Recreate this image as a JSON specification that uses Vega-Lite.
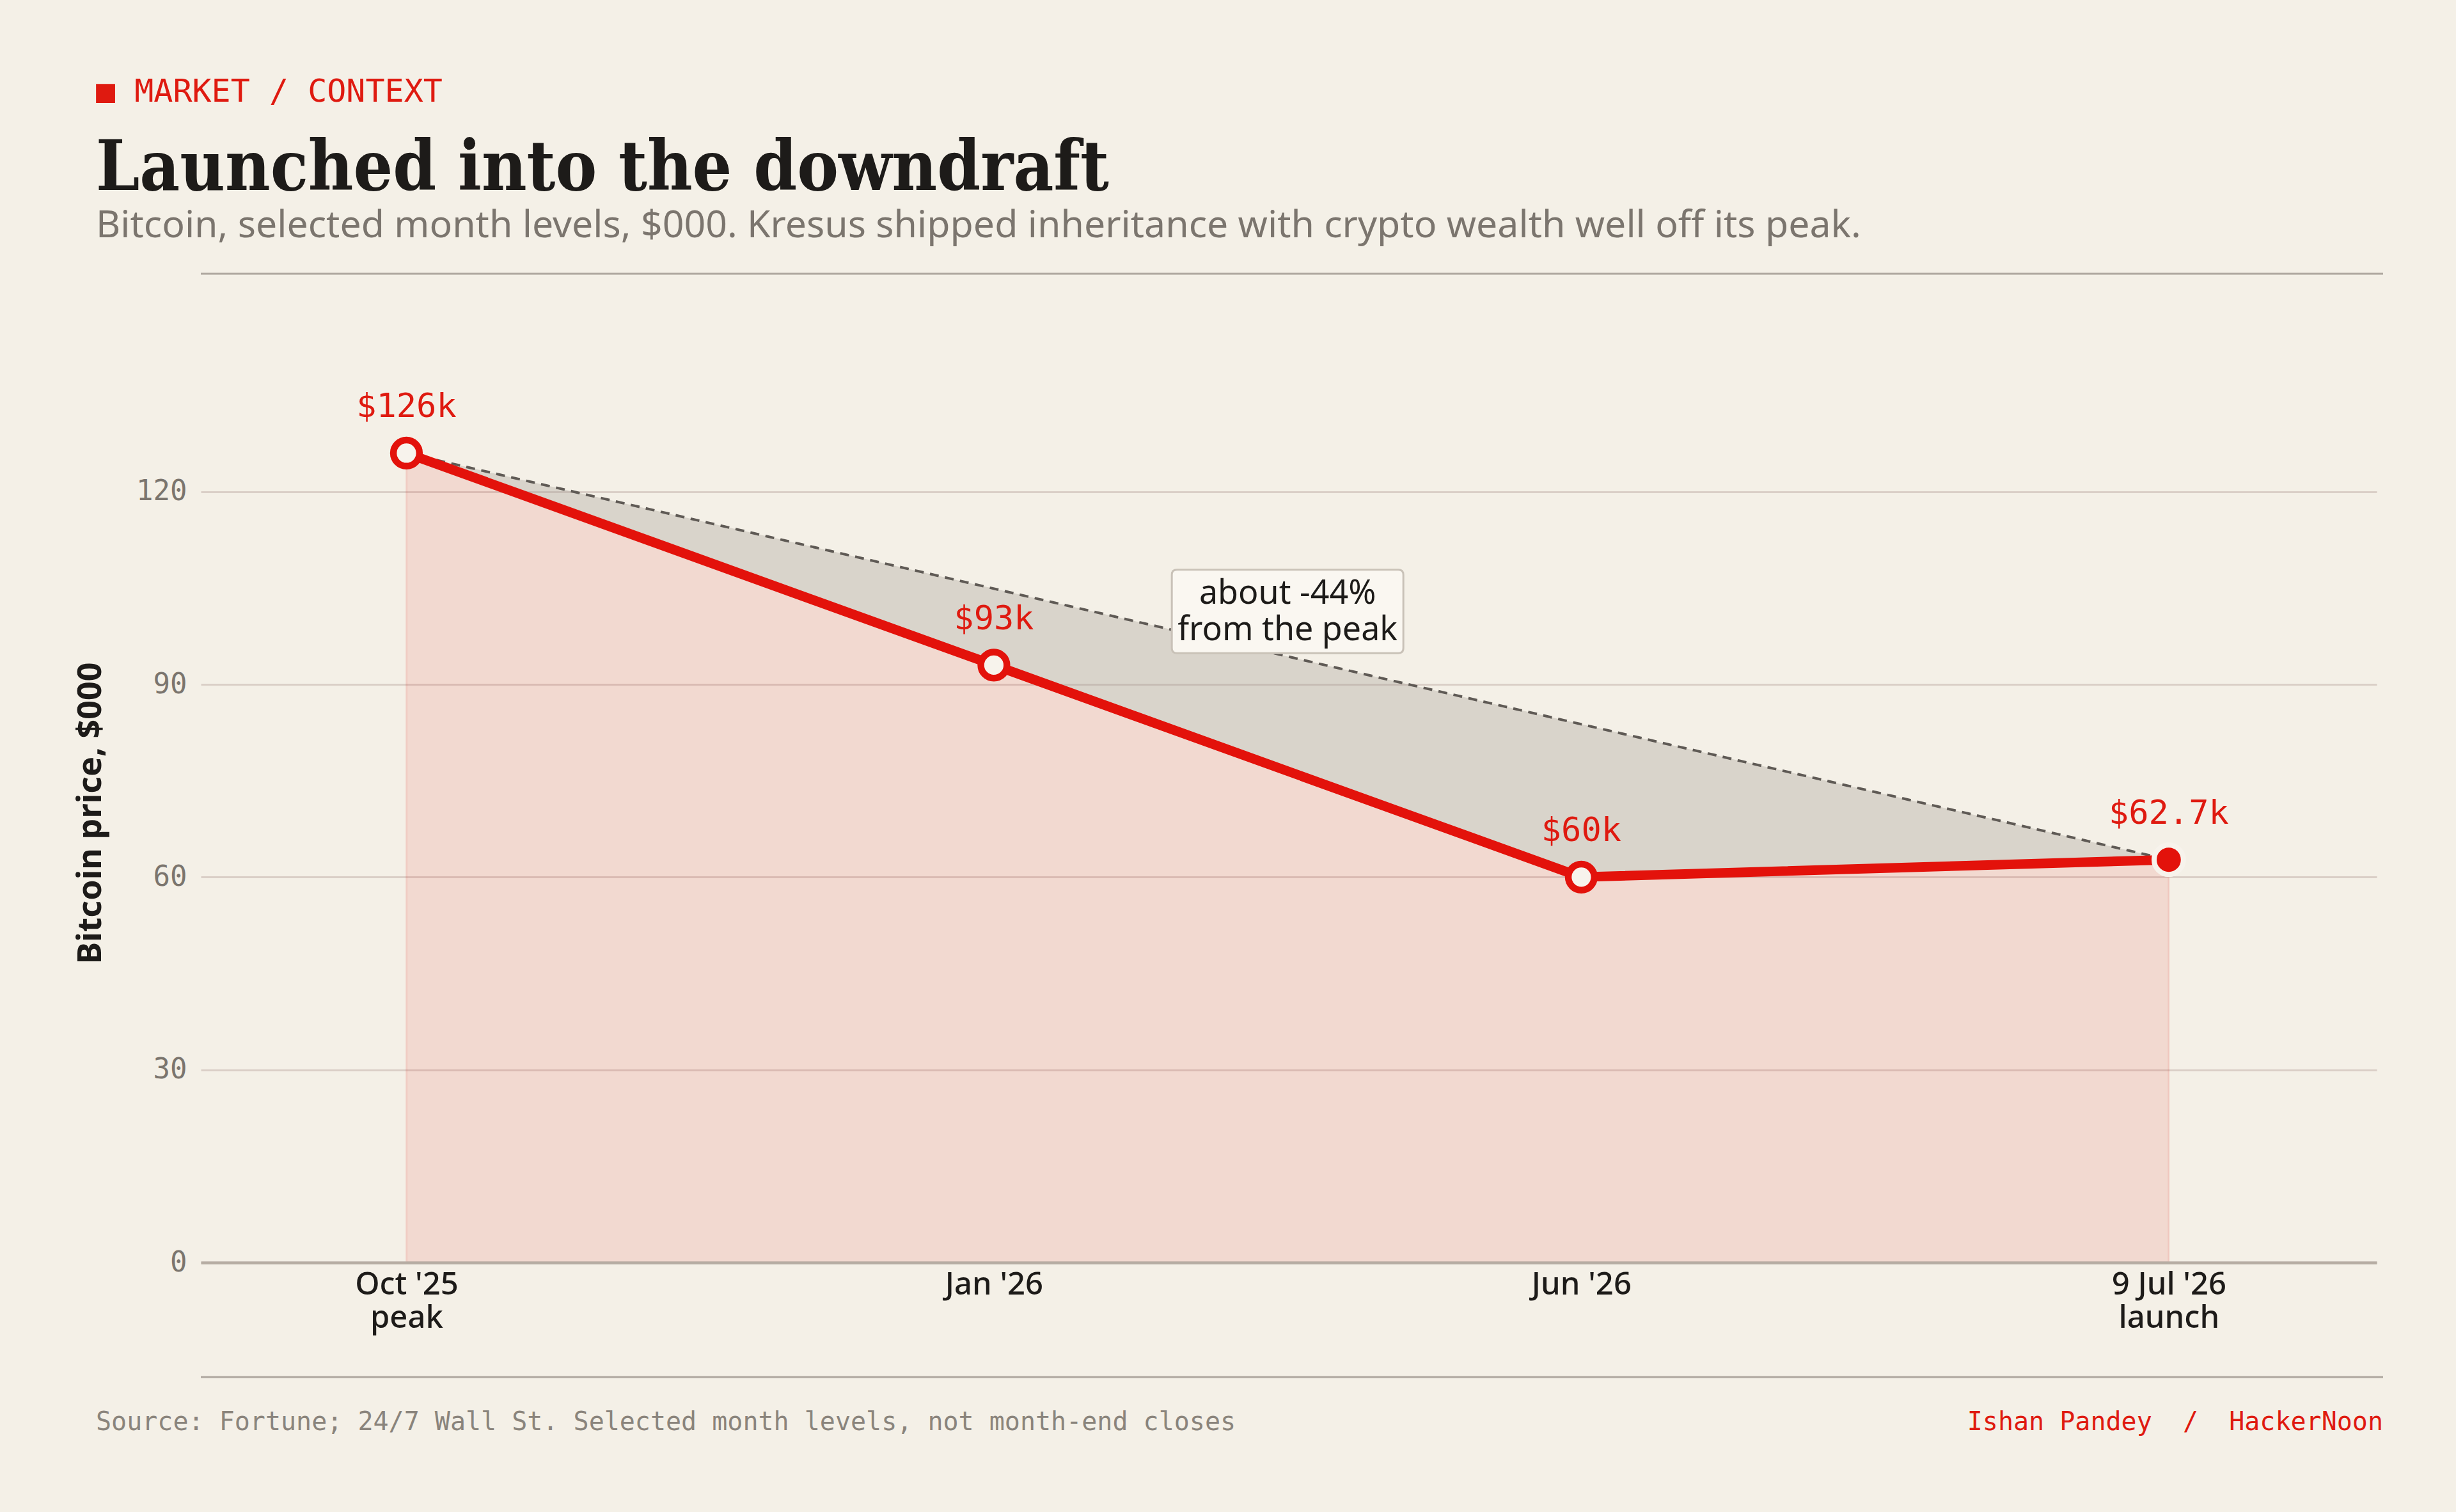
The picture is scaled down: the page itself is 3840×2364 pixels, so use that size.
{
  "$schema": "https://vega.github.io/schema/vega-lite/v6.json",
  "background": "#f4f0e7",
  "padding": {"left": 115, "top": 118, "right": 115, "bottom": 120},
  "title": {
    "text": "■ MARKET / CONTEXT",
    "anchor": "start",
    "frame": "group",
    "dx": -164,
    "font": "DejaVu Sans Mono",
    "fontSize": 50,
    "fontWeight": "normal",
    "color": "#df1a10",
    "offset": 42
  },
  "spacing": 179,
  "bounds": "flush",
  "vconcat": [
    {
      "width": 3412,
      "height": 1,
      "title": {
        "text": "Launched into the downdraft",
        "subtitle": "Bitcoin, selected month levels, $000. Kresus shipped inheritance with crypto wealth well off its peak.",
        "anchor": "start",
        "frame": "group",
        "dx": -164,
        "font": "DejaVu Serif Condensed, DejaVu Serif",
        "fontSize": 108,
        "fontWeight": "bold",
        "color": "#1d1b19",
        "subtitleFont": "Noto Sans",
        "subtitleFontSize": 59,
        "subtitleColor": "#7b756e",
        "subtitlePadding": 4,
        "offset": 43
      },
      "data": {"values": [{}]},
      "mark": {"type": "rule", "color": "#aea79f", "strokeWidth": 3},
      "encoding": {"y": {"datum": 0, "type": "quantitative", "axis": null}}
    },
    {
      "width": 3402,
      "height": 1366,
      "data": {
        "values": [
          {"pos": 0, "month": "Oct '25", "price": 126, "trend": 126, "tag": "$126k", "kind": "open"},
          {"pos": 1, "month": "Jan '26", "price": 93, "trend": 104.9, "tag": "$93k", "kind": "open"},
          {"pos": 2, "month": "Jun '26", "price": 60, "trend": 83.8, "tag": "$60k", "kind": "open"},
          {"pos": 3, "month": "9 Jul '26", "price": 62.7, "trend": 62.7, "tag": "$62.7k", "kind": "launch"}
        ]
      },
      "encoding": {
        "x": {
          "field": "pos",
          "type": "quantitative",
          "scale": {"domain": [-0.35, 3.354], "nice": false, "zero": false},
          "axis": {
            "values": [0, 1, 2, 3],
            "labelExpr": "datum.value == 0 ? [\"Oct '25\", 'peak'] : datum.value == 3 ? [\"9 Jul '26\", 'launch'] : datum.value == 1 ? \"Jan '26\" : \"Jun '26\"",
            "labelFont": "Noto Sans",
            "labelFontSize": 49,
            "labelFontWeight": 500,
            "labelColor": "#1d1b19",
            "labelLineHeight": 52,
            "labelPadding": 10,
            "labelFlush": false,
            "labelOverlap": false,
            "domain": true,
            "domainColor": "#b6ada3",
            "domainWidth": 4.5,
            "ticks": false,
            "grid": false,
            "zindex": 1,
            "title": null
          }
        },
        "y": {
          "field": "price",
          "type": "quantitative",
          "scale": {"domain": [0, 136], "nice": false},
          "title": "Bitcoin price, $000",
          "axis": {
            "values": [0, 30, 60, 90, 120],
            "labelFont": "DejaVu Sans Mono",
            "labelFontSize": 44,
            "labelColor": "#7b756e",
            "labelPadding": 22,
            "domain": false,
            "ticks": false,
            "grid": true,
            "gridColor": "#dacfc7",
            "gridWidth": 3,
            "zindex": 0,
            "titleFont": "Noto Sans",
            "titleFontSize": 52,
            "titleFontWeight": "bold",
            "titleColor": "#1d1b19",
            "titlePadding": 44,
            "titleY": 663
          }
        }
      },
      "layer": [
        {
          "mark": {"type": "area", "fill": "#e3120b", "fillOpacity": 0.1, "stroke": "#e3120b", "strokeOpacity": 0.1, "strokeWidth": 3}
        },
        {
          "mark": {"type": "area", "fill": "#9c958c", "fillOpacity": 0.3},
          "encoding": {"y2": {"field": "trend"}}
        },
        {
          "transform": [{"filter": "datum.pos == 0 || datum.pos == 3"}],
          "mark": {"type": "line", "color": "#5f5a55", "strokeWidth": 4, "strokeDash": [14, 10]},
          "encoding": {"y": {"field": "trend", "type": "quantitative", "title": "Bitcoin price, $000"}}
        },
        {
          "mark": {"type": "line", "color": "#e3120b", "strokeWidth": 15, "strokeCap": "round", "strokeJoin": "round"}
        },
        {
          "data": {"values": [{"pos": 1.5, "price": 101.35, "note": "about -44%\nfrom the peak"}]},
          "mark": {
            "type": "point",
            "shape": "M-0.956,-0.36L0.956,-0.36Q1,-0.36 1,-0.316L1,0.316Q1,0.36 0.956,0.36L-0.956,0.36Q-1,0.36 -1,0.316L-1,-0.316Q-1,-0.36 -0.956,-0.36Z",
            "size": 131044,
            "filled": true,
            "fill": "#faf7f1",
            "stroke": "#c9c2b8",
            "strokeWidth": 3,
            "opacity": 1
          }
        },
        {
          "data": {"values": [{"pos": 1.5, "price": 101.35, "note": "about -44%\nfrom the peak"}]},
          "mark": {"type": "text", "font": "Noto Sans", "fontSize": 52, "color": "#1d1b19", "lineBreak": "\n", "lineHeight": 57, "align": "center", "baseline": "middle", "dy": -28},
          "encoding": {"text": {"field": "note"}}
        },
        {
          "transform": [{"filter": "datum.kind == 'open'"}],
          "mark": {"type": "point", "shape": "circle", "size": 1660, "filled": true, "fill": "#f7f3ec", "stroke": "#e3120b", "strokeWidth": 10.5, "opacity": 1}
        },
        {
          "transform": [{"filter": "datum.kind == 'launch'"}],
          "mark": {"type": "point", "shape": "circle", "size": 2100, "filled": true, "fill": "#e3120b", "stroke": "#f7f3ec", "strokeWidth": 8, "opacity": 1}
        },
        {
          "mark": {"type": "text", "font": "DejaVu Sans Mono", "fontSize": 52, "color": "#df1a10", "dy": -72, "align": "center", "baseline": "middle"},
          "encoding": {"text": {"field": "tag"}}
        }
      ]
    },
    {
      "width": 3412,
      "height": 1,
      "data": {
        "values": [
          {"side": "left", "note": "Source: Fortune; 24/7 Wall St. Selected month levels, not month-end closes"},
          {"side": "right", "note": "Ishan Pandey\u00a0\u00a0/\u00a0\u00a0HackerNoon"}
        ]
      },
      "layer": [
        {
          "data": {"values": [{}]},
          "mark": {"type": "rule", "color": "#aea79f", "strokeWidth": 3},
          "encoding": {"y": {"datum": 0, "type": "quantitative", "axis": null}}
        },
        {
          "transform": [{"filter": "datum.side == 'left'"}],
          "mark": {"type": "text", "align": "left", "baseline": "middle", "dx": -164, "dy": 71, "font": "DejaVu Sans Mono", "fontSize": 40, "color": "#8a847c"},
          "encoding": {
            "x": {"field": "side", "type": "ordinal", "scale": {"type": "point", "padding": 0, "domain": ["left", "right"]}, "axis": null},
            "y": {"datum": 0, "type": "quantitative", "axis": null},
            "text": {"field": "note"}
          }
        },
        {
          "transform": [{"filter": "datum.side == 'right'"}],
          "mark": {"type": "text", "align": "right", "baseline": "middle", "dy": 71, "font": "DejaVu Sans Mono", "fontSize": 40, "color": "#df1a10"},
          "encoding": {
            "x": {"field": "side", "type": "ordinal", "scale": {"type": "point", "padding": 0, "domain": ["left", "right"]}, "axis": null},
            "y": {"datum": 0, "type": "quantitative", "axis": null},
            "text": {"field": "note"}
          }
        }
      ]
    }
  ],
  "config": {
    "view": {"stroke": null}
  }
}
